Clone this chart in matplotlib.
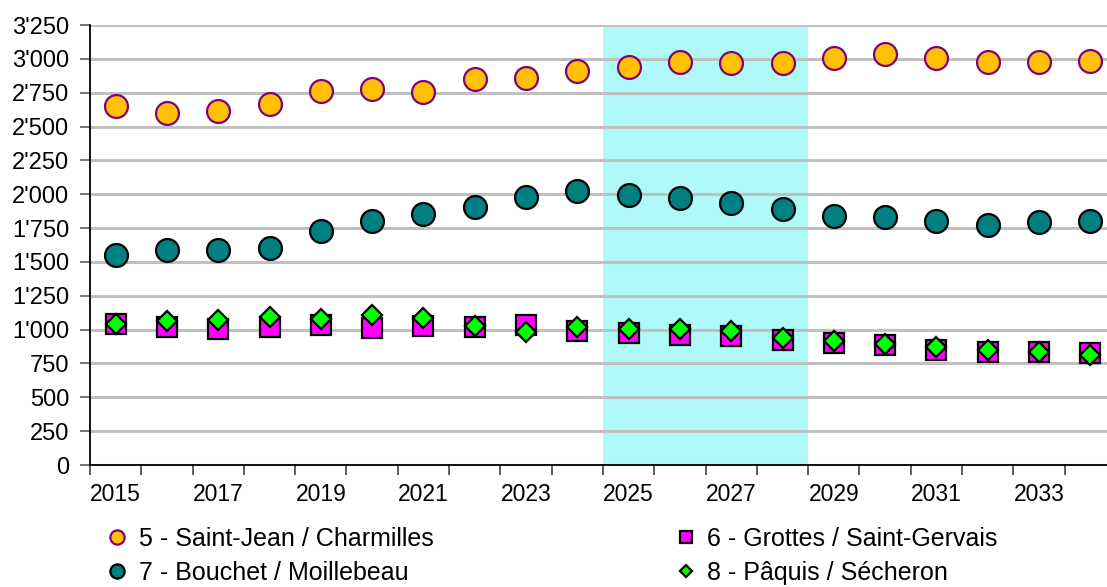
import numpy as np
import matplotlib
matplotlib.use("Agg")
import matplotlib.pyplot as plt
from matplotlib.ticker import FuncFormatter, FixedLocator

plt.rcParams['font.family'] = ['Liberation Sans', 'DejaVu Sans']

years = list(range(2015, 2035))

# 5 - Saint-Jean / Charmilles
saint_jean = [2652, 2600, 2615, 2667, 2763, 2777, 2755, 2851, 2859, 2910,
              2940, 2977, 2969, 2969, 3006, 3036, 3006, 2977, 2977, 2984]
# 6 - Grottes / Saint-Gervais
grottes = [1044, 1019, 1007, 1019, 1034, 1012, 1027, 1019, 1034, 990,
           977, 958, 953, 926, 901, 884, 849, 832, 835, 825]
# 7 - Bouchet / Moillebeau
bouchet = [1551, 1588, 1588, 1603, 1728, 1802, 1854, 1906, 1980, 2024,
           1994, 1972, 1935, 1891, 1839, 1832, 1802, 1773, 1795, 1802]
# 8 - Pâquis / Sécheron
paquis = [1044, 1064, 1071, 1091, 1078, 1108, 1086, 1027, 982, 1022,
          1002, 1002, 987, 940, 916, 894, 874, 849, 832, 813]

labels = ["5 - Saint-Jean / Charmilles", "6 - Grottes / Saint-Gervais",
          "7 - Bouchet / Moillebeau", "8 - Pâquis / Sécheron"]

# projection period highlighted (2025-2028)
shade_start, shade_end = 2025, 2028

x = np.arange(len(years))

fig = plt.figure(figsize=(11.07, 5.87), dpi=100)
ax = fig.add_axes([90 / 1107, 1 - 465 / 587, 1 - 90 / 1107, (465 - 25) / 587])

ax.axvspan(years.index(shade_start) - 0.5, years.index(shade_end) + 0.5,
           color='#aff9f9', zorder=0, lw=0)

h5, = ax.plot(x, saint_jean, 'o', ms=16.5, mfc='#ffc000', mec='#800080', mew=1.6, zorder=3)
h7, = ax.plot(x, bouchet, 'o', ms=16.5, mfc='#008080', mec='black', mew=1.6, zorder=3)
h6, = ax.plot(x, grottes, 's', ms=15, mfc='#ff00ff', mec='black', mew=1.6, zorder=3)
h8, = ax.plot(x, paquis, 'D', ms=10.5, mfc='#00ff00', mec='black', mew=1.6, zorder=4)

ax.set_xlim(-0.5, (1107 - 90) / 51.3 - 0.5)
ax.set_ylim(0, 3250)

ax.set_yticks(np.arange(0, 3251, 250))
ax.yaxis.set_major_formatter(FuncFormatter(lambda v, p: f"{int(v):,}".replace(",", "'")))
ax.yaxis.grid(True, color='#c0c0c0', lw=2.2)
ax.set_axisbelow(True)

ax.xaxis.set_major_locator(FixedLocator(np.arange(-0.5, len(years), 1)))
ax.xaxis.set_major_formatter(FuncFormatter(lambda v, p: ""))
ax.xaxis.set_minor_locator(FixedLocator(x[::2]))
ax.set_xticklabels([str(y) for y in years[::2]], minor=True)
ax.tick_params(axis='x', which='minor', length=0, labelsize=16.5, pad=13)
ax.tick_params(axis='x', which='major', length=7, width=1.2, color='#404040')
ax.tick_params(axis='y', length=7, width=1.2, color='#606060', labelsize=17, pad=8)

for s in ['top', 'right']:
    ax.spines[s].set_visible(False)
for s in ['left', 'bottom']:
    ax.spines[s].set_linewidth(1.3)

fig.legend([h5, h7, h6, h8], [labels[0], labels[2], labels[1], labels[3]],
           ncol=2, loc='upper left', bbox_to_anchor=(0.088, 0.12),
           frameon=False, fontsize=18, markerscale=0.62,
           handlelength=0.8, handletextpad=0.45, columnspacing=9.7,
           labelspacing=0.42, borderaxespad=0)

fig.savefig("out.png", dpi=100)
